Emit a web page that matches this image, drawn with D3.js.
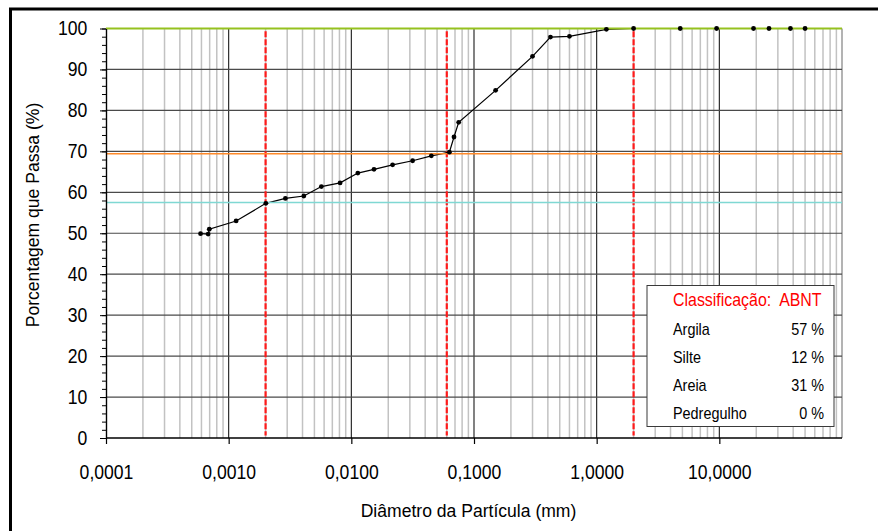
<!DOCTYPE html>
<html>
<head>
<meta charset="utf-8">
<script src="https://cdn.jsdelivr.net/npm/d3@7"></script>
<style>
  html, body { margin: 0; padding: 0; background: #fff; }
  svg { display: block; font-family: "Liberation Sans", Arial, sans-serif; }
</style>
</head>
<body>
<svg id="chart" width="878" height="531"></svg>
<script>
// Curva granulométrica: diâmetro (mm) x porcentagem que passa (%)
const diametros = [0.00059, 0.00068, 0.000695, 0.00115, 0.00201, 0.0029, 0.0041, 0.0057, 0.0081,
  0.0113, 0.0153, 0.0217, 0.0316, 0.0449, 0.063, 0.0687, 0.075, 0.15, 0.3, 0.42, 0.6, 1.2, 2.0,
  4.8, 9.5, 19, 25.4, 38, 50];
const passante = [49.9, 49.8, 51.0, 53.0, 57.3, 58.5, 59.1, 61.4, 62.3,
  64.7, 65.6, 66.7, 67.7, 68.9, 69.8, 73.5, 77.1, 84.9, 93.2, 97.9, 98.1, 99.8, 100,
  100, 100, 100, 100, 100, 100];

// Limites ABNT entre frações (mm) e porcentagem passante em cada limite
const limitesABNT = [0.002, 0.06, 2.0];
const passanteLimites = [57.5, 69.4, 100];
const coresLimites = ["#7fd8d3", "#ff8a2a", "#95c11f"];

// Tabela de classificação
const fracoes = ["Argila", "Silte", "Areia", "Pedregulho"];
const percentuais = [57, 12, 31, 0];

const xTicks = [0.0001, 0.001, 0.01, 0.1, 1, 10];
const yTicks = d3.range(0, 101, 10);
const yMinor = d3.range(0, 101, 2);

const svg = d3.select("#chart");
const x = d3.scaleLog().domain([1e-4, 100]).range([106, 842]);
const y = d3.scaleLinear().domain([0, 100]).range([438, 28.5]);

// outer frame
svg.append("rect").attr("x", 10.5).attr("y", 9).attr("width", 900).attr("height", 600)
  .attr("fill", "none").attr("stroke", "#000").attr("stroke-width", 3);

const g = svg.append("g");

// minor vertical grid
const minorX = [];
for (let e = -4; e < 2; e++) for (let m = 2; m <= 9; m++) minorX.push(m * Math.pow(10, e));
g.append("g").selectAll("line").data(minorX).join("line")
  .attr("x1", d => x(d)).attr("x2", d => x(d))
  .attr("y1", y(100)).attr("y2", y(0))
  .attr("stroke", "#c2c2c2").attr("stroke-width", 1.5);

// major vertical grid
g.append("g").selectAll("line").data(xTicks.slice(1)).join("line")
  .attr("x1", d => x(d)).attr("x2", d => x(d))
  .attr("y1", y(100)).attr("y2", y(0))
  .attr("stroke", "#1a1a1a").attr("stroke-width", 1.1);

// right border of plot area
g.append("line").attr("x1", x(100)).attr("x2", x(100)).attr("y1", y(100)).attr("y2", y(0))
  .attr("stroke", "#9a9a9a").attr("stroke-width", 1.5);

// horizontal grid
g.append("g").selectAll("line").data(yTicks.slice(1, -1)).join("line")
  .attr("x1", x.range()[0]).attr("x2", x.range()[1])
  .attr("y1", d => y(d)).attr("y2", d => y(d))
  .attr("stroke", "#4a4a4a").attr("stroke-width", 1.2);

// vertical dashed ABNT limits
g.append("g").selectAll("line").data(limitesABNT).join("line")
  .attr("x1", d => x(d)).attr("x2", d => x(d))
  .attr("y1", y(99.3)).attr("y2", y(0.6))
  .attr("stroke", "#ff1a1a").attr("stroke-width", 2.2).attr("stroke-dasharray", "6,2");

// legend box (drawn over grid)
const lg = svg.append("g");
lg.append("rect").attr("x", 647).attr("y", 285.5).attr("width", 187).attr("height", 141)
  .attr("fill", "#fff").attr("stroke", "#3a3a3a").attr("stroke-width", 1);

function texto(parent, str, tx, ty, size, sx, anchor, color) {
  return parent.append("text").text(str)
    .attr("transform", `translate(${tx},${ty}) scale(${sx},1)`)
    .attr("font-size", size).attr("text-anchor", anchor || "start")
    .attr("fill", color || "#000");
}
texto(lg, "Classificação:  ABNT", 673, 306, 17.5, 0.91, "start", "#ff0000")
  .attr("xml:space", "preserve").style("white-space", "pre");
fracoes.forEach((f, i) => {
  const by = 335 + i * 28.1;
  texto(lg, f, 673, by, 16, 0.9);
  texto(lg, percentuais[i] + " %", 824, by, 16, 0.9, "end");
});

// data curve
const pts = diametros.map((d, i) => [d, passante[i]]);
svg.append("path").datum(pts)
  .attr("fill", "none").attr("stroke", "#000").attr("stroke-width", 1.2)
  .attr("d", d3.line().x(d => x(d[0])).y(d => y(d[1])));

// horizontal reference lines at passing percentages of ABNT limits
svg.append("g").selectAll("line").data(passanteLimites).join("line")
  .attr("x1", x.range()[0]).attr("x2", x.range()[1])
  .attr("y1", d => y(d)).attr("y2", d => y(d))
  .attr("stroke", (d, i) => coresLimites[i]).attr("stroke-width", (d, i) => i === 2 ? 2.2 : 1.6);

svg.append("g").selectAll("circle").data(pts).join("circle")
  .attr("cx", d => x(d[0])).attr("cy", d => y(d[1]))
  .attr("r", 2.4).attr("fill", "#000");

// axes
const sxT = 0.88;
const yAxisMinor = d3.axisLeft(y).tickValues(yMinor).tickSize(4).tickFormat("").tickSizeOuter(0);
const yAxis = d3.axisLeft(y).tickValues(yTicks).tickSize(6).tickPadding(12.7).tickSizeOuter(0);
const ag1 = svg.append("g").attr("transform", `translate(${x.range()[0]},0)`).call(yAxisMinor);
const ag2 = svg.append("g").attr("transform", `translate(${x.range()[0]},0)`).call(yAxis);
[ag1, ag2].forEach(a => {
  a.select(".domain").attr("stroke", "#000").attr("stroke-width", 1.2);
  a.selectAll(".tick line").attr("stroke", "#000").attr("stroke-width", 1);
});
ag2.selectAll(".tick text")
  .attr("font-family", "Liberation Sans, Arial, sans-serif").attr("font-size", 20)
  .attr("fill", "#000")
  .attr("x", -18.7 / sxT).attr("transform", `scale(${sxT},1)`);

const fmt = d => d3.format(".4f")(d).replace(".", ",");
const xAxis = d3.axisBottom(x).tickValues(xTicks).tickFormat(fmt).tickSize(6).tickPadding(21).tickSizeOuter(0);
const ax = svg.append("g").attr("transform", `translate(0,${y(0)})`).call(xAxis);
ax.select(".domain").attr("stroke", "#000").attr("stroke-width", 1.5)
  .attr("d", `M${x.range()[0]},0H${x.range()[1]}`);
ax.selectAll(".tick line").attr("stroke", "#000").attr("stroke-width", 1.2);
ax.selectAll(".tick text")
  .attr("font-family", "Liberation Sans, Arial, sans-serif").attr("font-size", 20)
  .attr("fill", "#000").attr("transform", `scale(${sxT},1)`);

// axis titles
svg.append("text").text("Diâmetro da Partícula (mm)")
  .attr("transform", "translate(468.5,517) scale(0.95,1)")
  .attr("text-anchor", "middle").attr("font-size", 18.5).attr("fill", "#000");
svg.append("text").text("Porcentagem que Passa (%)")
  .attr("transform", "translate(38.5,215) rotate(-90) scale(0.95,1)")
  .attr("text-anchor", "middle").attr("font-size", 18.5).attr("fill", "#000");
</script>
</body>
</html>
